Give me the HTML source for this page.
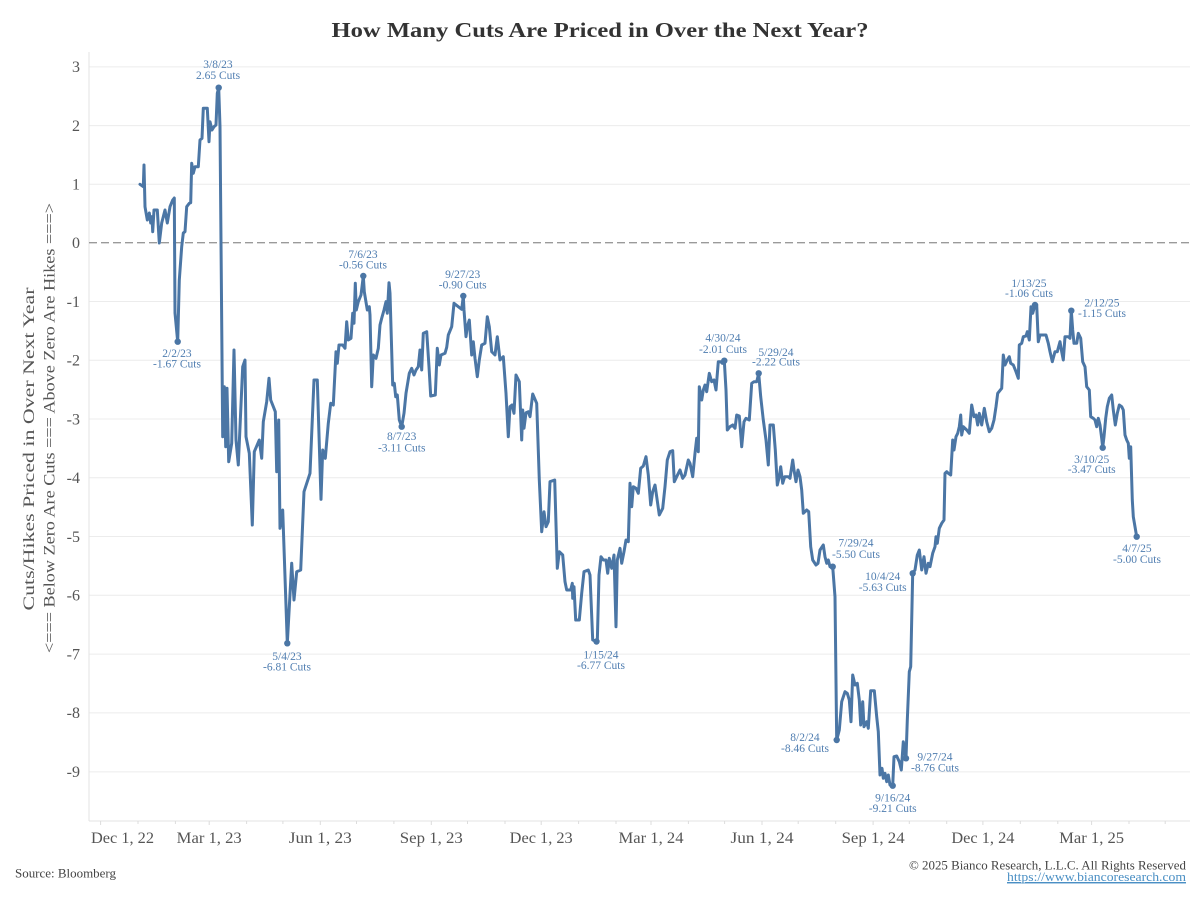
<!DOCTYPE html>
<html>
<head>
<meta charset="utf-8">
<style>
  html, body { margin:0; padding:0; background:#ffffff; }
  svg { display:block; }
  text { font-family: "Liberation Serif", serif; }
</style>
</head>
<body>
<svg width="1200" height="900" viewBox="0 0 1200 900" xmlns="http://www.w3.org/2000/svg">
  <rect x="0" y="0" width="1200" height="900" fill="#ffffff"/>

  <!-- Title -->
  <text x="600" y="37" text-anchor="middle" font-size="21" font-weight="bold" fill="#333333" textLength="537" lengthAdjust="spacingAndGlyphs">How Many Cuts Are Priced in Over the Next Year?</text>

  <!-- Gridlines -->
  <g stroke="#ececec" stroke-width="1">
    <line x1="89" y1="66.9" x2="1190" y2="66.9"/>
    <line x1="89" y1="125.6" x2="1190" y2="125.6"/>
    <line x1="89" y1="184.3" x2="1190" y2="184.3"/>
    <line x1="89" y1="301.5" x2="1190" y2="301.5"/>
    <line x1="89" y1="360.2" x2="1190" y2="360.2"/>
    <line x1="89" y1="419.0" x2="1190" y2="419.0"/>
    <line x1="89" y1="477.8" x2="1190" y2="477.8"/>
    <line x1="89" y1="536.5" x2="1190" y2="536.5"/>
    <line x1="89" y1="595.3" x2="1190" y2="595.3"/>
    <line x1="89" y1="654.1" x2="1190" y2="654.1"/>
    <line x1="89" y1="712.9" x2="1190" y2="712.9"/>
    <line x1="89" y1="771.9" x2="1190" y2="771.9"/>
  </g>

  <!-- Axes -->
  <line x1="89" y1="52" x2="89" y2="821" stroke="#e3e3e3" stroke-width="1"/>
  <line x1="89" y1="821" x2="1190" y2="821" stroke="#e3e3e3" stroke-width="1"/>

  <!-- Zero line -->
  <line x1="89" y1="242.7" x2="1190" y2="242.7" stroke="#9a9a9a" stroke-width="1.4" stroke-dasharray="8,4"/>

  <!-- X tick marks -->
  <g stroke="#dcdcdc" stroke-width="1">
    <line x1="100.6" y1="821" x2="100.6" y2="825"/>
    <line x1="138.0" y1="821" x2="138.0" y2="824"/>
    <line x1="175.4" y1="821" x2="175.4" y2="824"/>
    <line x1="209.2" y1="821" x2="209.2" y2="825"/>
    <line x1="246.6" y1="821" x2="246.6" y2="824"/>
    <line x1="282.9" y1="821" x2="282.9" y2="824"/>
    <line x1="320.3" y1="821" x2="320.3" y2="825"/>
    <line x1="356.5" y1="821" x2="356.5" y2="824"/>
    <line x1="393.9" y1="821" x2="393.9" y2="824"/>
    <line x1="431.3" y1="821" x2="431.3" y2="825"/>
    <line x1="467.5" y1="821" x2="467.5" y2="824"/>
    <line x1="505.0" y1="821" x2="505.0" y2="824"/>
    <line x1="541.2" y1="821" x2="541.2" y2="825"/>
    <line x1="578.6" y1="821" x2="578.6" y2="824"/>
    <line x1="616.0" y1="821" x2="616.0" y2="824"/>
    <line x1="651.0" y1="821" x2="651.0" y2="825"/>
    <line x1="688.4" y1="821" x2="688.4" y2="824"/>
    <line x1="724.6" y1="821" x2="724.6" y2="824"/>
    <line x1="762.0" y1="821" x2="762.0" y2="825"/>
    <line x1="798.2" y1="821" x2="798.2" y2="824"/>
    <line x1="835.7" y1="821" x2="835.7" y2="824"/>
    <line x1="873.1" y1="821" x2="873.1" y2="825"/>
    <line x1="909.3" y1="821" x2="909.3" y2="824"/>
    <line x1="946.7" y1="821" x2="946.7" y2="824"/>
    <line x1="982.9" y1="821" x2="982.9" y2="825"/>
    <line x1="1020.3" y1="821" x2="1020.3" y2="824"/>
    <line x1="1057.8" y1="821" x2="1057.8" y2="824"/>
    <line x1="1091.6" y1="821" x2="1091.6" y2="825"/>
    <line x1="1129.0" y1="821" x2="1129.0" y2="824"/>
    <line x1="1165.2" y1="821" x2="1165.2" y2="824"/>
  </g>

  <!-- Y tick labels -->
  <g font-size="16" fill="#555555" text-anchor="end">
    <text x="80" y="72">3</text>
    <text x="80" y="131">2</text>
    <text x="80" y="189.5">1</text>
    <text x="80" y="248">0</text>
    <text x="80" y="307">-1</text>
    <text x="80" y="365.5">-2</text>
    <text x="80" y="424.5">-3</text>
    <text x="80" y="483">-4</text>
    <text x="80" y="542">-5</text>
    <text x="80" y="600.5">-6</text>
    <text x="80" y="659.5">-7</text>
    <text x="80" y="718">-8</text>
    <text x="80" y="777">-9</text>
  </g>

  <!-- X tick labels -->
  <g font-size="16" fill="#555555" text-anchor="middle">
    <text x="91" y="843" text-anchor="start" textLength="63" lengthAdjust="spacingAndGlyphs">Dec 1, 22</text>
    <text x="209.2" y="843" textLength="65" lengthAdjust="spacingAndGlyphs">Mar 1, 23</text>
    <text x="320.3" y="843" textLength="63" lengthAdjust="spacingAndGlyphs">Jun 1, 23</text>
    <text x="431.3" y="843" textLength="63" lengthAdjust="spacingAndGlyphs">Sep 1, 23</text>
    <text x="541.2" y="843" textLength="63" lengthAdjust="spacingAndGlyphs">Dec 1, 23</text>
    <text x="651.0" y="843" textLength="65" lengthAdjust="spacingAndGlyphs">Mar 1, 24</text>
    <text x="762.0" y="843" textLength="63" lengthAdjust="spacingAndGlyphs">Jun 1, 24</text>
    <text x="873.1" y="843" textLength="63" lengthAdjust="spacingAndGlyphs">Sep 1, 24</text>
    <text x="982.9" y="843" textLength="63" lengthAdjust="spacingAndGlyphs">Dec 1, 24</text>
    <text x="1091.6" y="843" textLength="65" lengthAdjust="spacingAndGlyphs">Mar 1, 25</text>
  </g>

  <!-- Y axis title -->
  <g font-size="16" fill="#555555" text-anchor="middle">
    <text transform="translate(34,449) rotate(-90)" textLength="323" lengthAdjust="spacingAndGlyphs">Cuts/Hikes Priced in Over Next Year</text>
    <text transform="translate(54.5,428) rotate(-90)" textLength="450" lengthAdjust="spacingAndGlyphs">&lt;=== Below Zero Are Cuts === Above Zero Are Hikes ===&gt;</text>
  </g>

  <!-- Series -->
  <polyline fill="none" stroke="#4b76a5" stroke-width="3" stroke-linejoin="round" stroke-linecap="round" points="
140,184.3 143.3,186.7 144,165 145,206.7 147.3,220 149.3,213 150.7,223 152,216.7 152.7,231.7 154,210 157.3,210 159.3,243 161.7,223 165,210 167.3,223 170,206.7 172.7,200 174.3,198 175,313 177.7,341.7 179.3,280 181.7,246.7 183.3,233 185,231.7 186.7,206.7 189.3,203.3 190.7,202.7 191.7,163.3 193.3,173.3 195,166.7 198.3,166.7 200,140 202,138.3 203.3,108.3 207.3,108.3 209,141.7 210,121.7 212,130 214,126.7 216,125 217.3,93.3 218.7,87.7 220,126.7 222.7,436.7 224.3,386.7 225.7,446.7 227,388.3 228.7,461.7 231.7,443.3 234,350 236,440 238.3,465 242.7,366.7 245,360 246,436.7 249.3,453.3 252.3,525 254.3,451.7 259.3,440 261.7,458.3 263.3,421.7 266.7,401.7 269,378.3 270.7,400 275.3,411.7 276.7,471.7 278.7,420 280,528.3 282.7,510 287.3,643.3 291.7,563.3 294,600 296.7,571.7 300.7,570 304,491.7 310,473.3 314,380 317.3,380 321,499.3 322.7,450 325.3,458.3 328.3,423.3 330.7,403.3 333.3,405 336,351.7 337.3,363.3 339,345 342.7,345 345,348.3 346.7,321.7 348.3,340 351,338.3 352.7,313.3 354,323.3 355.3,283.3 356.3,310 358.3,301.7 361,295 363.3,276 364.3,291.7 367.3,310 369.3,306.7 370,315 371.7,386.7 373.3,355 376,358.3 378.3,348.3 380,325 381.7,318.3 384,310 386,301.7 387.3,313.3 389,282.7 390,293.3 392.7,385 394.3,383.3 395.7,396.7 397.3,395 399.3,420 401.7,426.7 404,413.3 406,393.3 409.3,373.3 411.7,368.3 414,375 416,370 418.3,366.7 420,350 421.7,370 423.3,333.3 426.7,331.7 429,366.7 430.7,396 435.3,395 437.3,348.3 439.3,365 441,355 445,353.3 446.7,347.3 448.3,335 451.7,326.7 454,303.3 458.3,306.7 461.7,309.3 463.3,296 464,310 466,336.7 467.3,326.7 469.3,320 471.7,355 473.3,341.7 475,358.3 477.3,376.7 479.3,360 481.7,345 485,343.3 487.3,316.7 489.3,326.7 491.7,351.7 495,355 497.3,336.7 500,360 503.3,356.7 506,393.3 508.3,436.7 510,406.7 512,405 514,413.3 516,375 519.3,381.7 521.7,440 522.7,410 524,428.3 526,412.7 528.3,411.7 530,416.7 532.7,394 536.7,403.3 539.3,480 541.7,531.7 544,511.7 546,526.7 548.3,521.7 550,481.7 554.7,480 557.3,568.3 559.3,551.7 562.7,555 565,581.7 566.7,590 570.7,590 572.3,583.3 572.7,598.3 574,586.7 575.7,620 579.3,620 581.7,593.3 584,571.7 588.3,570 590,575 592.7,640 597.3,641.7 599,575 601,556.7 603.3,560 606,560 607.7,573.3 609.3,558.3 611.7,568.3 614,555 616,626.7 617.3,560 620,548.3 621.7,563.3 624,551.7 626,540 628.3,541.7 630,483.3 631.7,506.7 633.3,486.7 636,488.3 638.3,493.3 640.7,468.3 643.3,466 646,456.7 648.3,475 650.7,505 652.7,491.7 655,485 656.7,496.7 659.3,515 662.7,508.3 665,486.7 667.3,460 670,451.7 672.7,450.7 674.3,481.7 676.7,476.7 680,470 682.7,478.3 685,475 688.3,460 690,463.3 692.7,476.7 695,453.3 696.7,438.3 698.3,451.7 699.3,386.7 701.7,400 703.3,390 705,385 706.7,391.7 709.3,373.3 711.7,381.7 714,380 716,390 718.3,361.7 720.7,361.7 722.3,363.3 724.3,360.7 726,390 727.3,430 730,426.7 732.7,425 735,428.3 736.7,415 739.3,416 741.7,446.7 744,421.7 746,418.3 749.3,420 751.7,383.3 754,381.7 756.7,381.7 758.7,373.3 760.7,396.7 763.3,420 766,440 768.3,465 770,425 773.3,425 775.3,450 777.3,485 779.3,476.7 780.7,466.7 782.7,483.3 784.7,476.7 788.3,476.7 790,478.3 792.7,460 794,470 796,481.7 798,470 800,476.7 801.7,490 803.3,513.3 806.7,510 808.7,511.7 810.7,546.7 812.7,560 816,565 818,563.3 820,550 823.3,545 825,556.7 826.7,563.3 828.3,560 830,566.7 832.7,566.7 835,596.7 836.7,740 839.3,730 841.7,701.7 845,691.7 847.3,693.3 849.3,700 851,721.7 852.7,675 855,685 857.3,683.3 859.3,700 860.7,725 862.7,701.7 864,726.7 866.7,721.7 868.3,728.3 870.7,690.7 874.3,690.7 876.7,716.7 878.3,731.7 880,775 882,768.3 883.3,778.3 885,773.3 886.7,781.7 888.3,775 890,785 892.7,785.7 894,756.7 896.7,756 899.3,761.7 901.3,770 903.3,741.7 905,753.3 906,758.3 907.3,720 909.3,671.7 910.7,666.7 912.7,573.3 915,570 917.3,555 919.3,550 921.7,570 924,556.7 926,573.3 928.3,563.3 930,566.7 932.7,553.3 935,546.7 936,536.7 937.3,543.3 939.3,528.3 941.7,523.3 944,520 945,473.3 946.7,471.7 948.3,473.3 950.7,475 952.7,440 954,450 956,436.7 957.7,433.3 959.3,426.7 960.7,415 961.7,435 963.3,426.7 966.7,430 969.3,433.3 971.7,405 974,416.7 976,415 977.7,425 979.3,413.3 981.7,425 984.3,408.3 986.7,421.7 989.3,431.7 991.7,428.3 994,420 996,406.7 997.7,393.3 1001.7,388.3 1003.3,355 1005,365 1007.3,360 1009.3,356.7 1010.7,363.3 1013.3,365 1016,371.7 1018.3,378.3 1019.3,345 1021.7,343.3 1023.3,336.7 1026,336 1027.3,331.7 1029.3,340 1031,306.7 1032.7,313.3 1035,305 1036.7,305 1038.3,341.7 1040,335 1043.3,335 1046,335 1048.3,343.3 1050,351.7 1052.3,361.7 1055,351.7 1057.3,351.7 1060,341.7 1061.7,351.7 1063.3,360 1065,336.7 1068.3,336.7 1070,338.3 1071.3,310.7 1072.7,330 1074,343.3 1076.7,343.3 1078.3,333.3 1080.7,338.3 1082.7,361.7 1085,366.7 1086.7,386.7 1089.3,390 1090.7,416.7 1093.3,418.3 1095,420 1096.7,426.7 1098.3,418.3 1100,425 1101.7,438.3 1102.7,447.7 1104,436.7 1105.7,418.3 1107.3,406.7 1109.3,398.3 1111.7,395 1113.3,410 1115.3,425 1117.3,413.3 1119.3,405 1121.7,406.7 1123.3,410 1125,435 1126.7,440 1128.3,443.3 1129.3,458.3 1130.7,446.7 1132.3,500 1133.3,516.7 1136.7,536.7"/>

  <!-- Marker dots -->
  <g fill="#4b76a5">
    <circle cx="218.7" cy="87.7" r="3.2"/>
    <circle cx="177.7" cy="341.7" r="3.2"/>
    <circle cx="287.3" cy="643.3" r="3.2"/>
    <circle cx="363.3" cy="276" r="3.2"/>
    <circle cx="401.7" cy="426.7" r="3.2"/>
    <circle cx="463.3" cy="296" r="3.2"/>
    <circle cx="596.5" cy="641.5" r="3.2"/>
    <circle cx="724.3" cy="360.7" r="3.2"/>
    <circle cx="758.7" cy="373.3" r="3.2"/>
    <circle cx="832.7" cy="566.7" r="3.2"/>
    <circle cx="836.7" cy="740" r="3.2"/>
    <circle cx="892.7" cy="785.7" r="3.2"/>
    <circle cx="906" cy="758.3" r="3.2"/>
    <circle cx="912.7" cy="573.3" r="3.2"/>
    <circle cx="1035" cy="305" r="3.2"/>
    <circle cx="1071.3" cy="310.7" r="3.2"/>
    <circle cx="1102.7" cy="447.7" r="3.2"/>
    <circle cx="1136.7" cy="536.7" r="3.2"/>
  </g>

  <!-- Annotations -->
  <g font-size="11.5" fill="#4f7db0" text-anchor="middle">
    <text x="218" y="68">3/8/23</text>
    <text x="218" y="79">2.65 Cuts</text>

    <text x="177" y="357">2/2/23</text>
    <text x="177" y="367.5">-1.67 Cuts</text>

    <text x="363" y="258">7/6/23</text>
    <text x="363" y="268.5">-0.56 Cuts</text>

    <text x="287" y="660">5/4/23</text>
    <text x="287" y="670.5">-6.81 Cuts</text>

    <text x="401.7" y="440">8/7/23</text>
    <text x="401.7" y="451.5">-3.11 Cuts</text>

    <text x="462.7" y="278">9/27/23</text>
    <text x="462.7" y="288.5">-0.90 Cuts</text>

    <text x="601" y="658.5">1/15/24</text>
    <text x="601" y="669">-6.77 Cuts</text>

    <text x="723" y="341.5">4/30/24</text>
    <text x="723" y="353">-2.01 Cuts</text>

    <text x="776" y="356">5/29/24</text>
    <text x="776" y="365.5">-2.22 Cuts</text>

    <text x="856" y="546.5">7/29/24</text>
    <text x="856" y="558">-5.50 Cuts</text>

    <text x="805" y="741">8/2/24</text>
    <text x="805" y="752">-8.46 Cuts</text>

    <text x="882.7" y="580">10/4/24</text>
    <text x="882.7" y="591">-5.63 Cuts</text>

    <text x="892.7" y="801.5">9/16/24</text>
    <text x="892.7" y="812">-9.21 Cuts</text>

    <text x="935" y="760.5">9/27/24</text>
    <text x="935" y="771.5">-8.76 Cuts</text>

    <text x="1029" y="287">1/13/25</text>
    <text x="1029" y="297">-1.06 Cuts</text>

    <text x="1102" y="306.5">2/12/25</text>
    <text x="1102" y="317">-1.15 Cuts</text>

    <text x="1091.7" y="463">3/10/25</text>
    <text x="1091.7" y="473">-3.47 Cuts</text>

    <text x="1137" y="552">4/7/25</text>
    <text x="1137" y="563">-5.00 Cuts</text>
  </g>

  <!-- Footer -->
  <text x="15" y="877.5" font-size="12.5" fill="#444444" textLength="101" lengthAdjust="spacingAndGlyphs">Source: Bloomberg</text>
  <text x="909" y="869.5" font-size="12.5" fill="#444444" textLength="277" lengthAdjust="spacingAndGlyphs">© 2025 Bianco Research, L.L.C. All Rights Reserved</text>
  <text x="1007" y="881" font-size="12.5" fill="#4a8fc4" textLength="179" lengthAdjust="spacingAndGlyphs" text-decoration="underline">https://www.biancoresearch.com</text>
  <line x1="1007" y1="883" x2="1186" y2="883" stroke="#4a8fc4" stroke-width="0.8"/>
</svg>
</body>
</html>
